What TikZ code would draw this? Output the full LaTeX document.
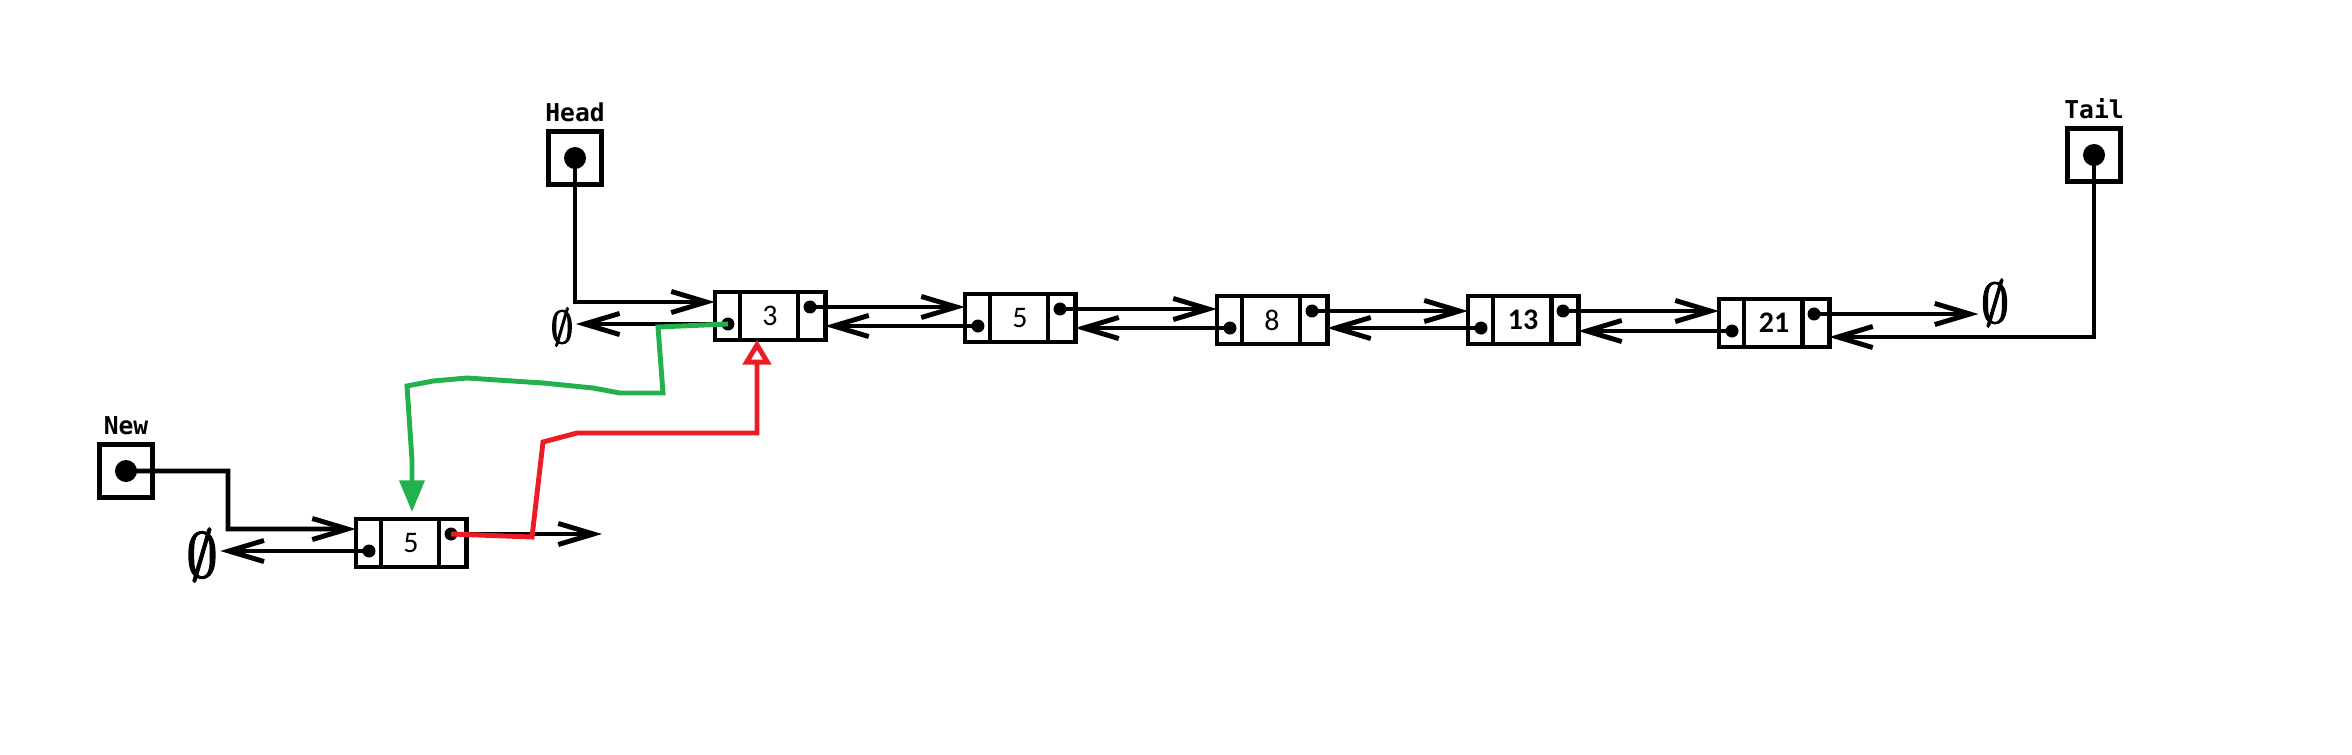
\documentclass[tikz,border=0pt]{standalone}
\usepackage{fontspec}
\usepackage{amssymb}
\usepackage{tikz}
\usetikzlibrary{arrows.meta,calc,positioning}
\newfontfamily\labelfont{DejaVu Sans Mono}
\newfontfamily\numfont{Carlito}
\newfontfamily\emptyfont[FakeBold=2.5]{Latin Modern Math}
\definecolor{paintgreen}{RGB}{34,177,76}
\definecolor{paintred}{RGB}{237,28,36}

\begin{document}
\begin{tikzpicture}[x=0.01cm, y=-0.01cm, line width=1.4pt,
	cell/.style={draw, minimum width=1.1cm, minimum height=0.48cm, inner sep=0pt, outer sep=0pt,
		font=\numfont\fontsize{8.5}{9}\selectfont,
		path picture={
			\draw[line width=1.4pt] ([xshift=0.25cm]path picture bounding box.north west) -- ([xshift=0.25cm]path picture bounding box.south west);
			\draw[line width=1.4pt] ([xshift=-0.27cm]path picture bounding box.north east) -- ([xshift=-0.27cm]path picture bounding box.south east);}},
	celldot/.style={circle, fill, inner sep=0pt, minimum size=0.13cm},
	ptr/.style={draw, minimum size=0.53cm, inner sep=0pt, outer sep=0pt},
	ptrdot/.style={circle, fill, inner sep=0pt, minimum size=0.22cm},
	lbl/.style={inner sep=0pt, font=\labelfont\bfseries\fontsize{7}{8}\selectfont},
	nullsym/.style={inner sep=0pt, font=\emptyfont\fontsize{16}{16}\selectfont},
	link/.style={-{Straight Barb[length=10pt,width=6pt]}},
	greenlink/.style={paintgreen, -{Triangle[length=9pt,width=7pt]}},
	redlink/.style={paintred, -{Triangle[open,length=7pt,width=8pt]}}]
	\useasboundingbox (0,0) rectangle (2352,754);

	% list nodes
	\foreach \name/\px/\py/\val in {n3/770/316/3, n5/1020/318/5, n8/1272/320/8, n13/1523/320/\textbf{13}, n21/1774/323/\textbf{21}, m5/411/543/5}{
		\node[cell] (\name) at (\px,\py) {\val};
		\node[celldot] (\name l) at ([xshift=0.13cm,yshift=-0.08cm]\name.west) {};
		\node[celldot] (\name r) at ([xshift=-0.15cm,yshift=0.09cm]\name.east) {};
	}

	% head, tail, new
	\node[ptr] (head) at (575,158) {};
	\node[ptrdot] (headd) at (head) {};
	\node[lbl, above=0.07cm of head] (headlbl) {Head};
	\node[ptr] (tail) at (2094,155) {};
	\node[ptrdot] (taild) at (tail) {};
	\node[lbl, above=0.07cm of tail] (taillbl) {Tail};
	\node[ptr] (new) at (126,471) {};
	\node[ptrdot] (newd) at (new) {};
	\node[lbl, above=0.07cm of new] (newlbl) {New};

	% nulls
	\node[nullsym, font=\emptyfont\fontsize{13}{13}\selectfont] (null1) at (562,327) {∅};
	\node[nullsym] (null2) at (1995,303) {∅};
	\node[nullsym, font=\emptyfont\fontsize{18}{18}\selectfont] (null3) at (202,555) {∅};

	% head and first node
	\draw[link] (headd.center) |- ([yshift=0.14cm]n3.west);
	\draw[link] (n3l.center) -- (null1.east |- n3l.center);

	% next / prev
	\draw[link] (n3r.center) -- (n5.west |- n3r.center);
	\draw[link] (n5l.center) -- (n3.east |- n5l.center);
	\draw[link] (n5r.center) -- (n8.west |- n5r.center);
	\draw[link] (n8l.center) -- (n5.east |- n8l.center);
	\draw[link] (n8r.center) -- (n13.west |- n8r.center);
	\draw[link] (n13l.center) -- (n8.east |- n13l.center);
	\draw[link] (n13r.center) -- (n21.west |- n13r.center);
	\draw[link] (n21l.center) -- (n13.east |- n21l.center);
	\draw[link] (n21r.center) -- (null2.west |- n21r.center);

	% tail
	\draw[link] (taild.center) |- ([yshift=-0.14cm]n21.east);

	% new node
	\coordinate (newbend) at (228,529);
	\coordinate (mout) at (602,534);
	\draw[link] (newd.center) -| (newbend) -- ([yshift=0.14cm]m5.west);
	\draw[link] (m5l.center) -- (null3.east |- m5l.center);
	\draw[link] (m5r.center) -- (mout |- m5r.center);

	% red: new.next = head
	\coordinate (redturn) at (757,433);
	\draw[redlink] (m5r.center) -- (532,537) -- (543,442) -- (577,433) -- (redturn) -- (redturn |- n3.south);

	% green: head.prev = new
	\coordinate (greenturn) at (412,460);
	\draw[greenlink, shorten >=0.07cm] (n3l.center) -- (658,327) -- (663,393) -- (620,393) -- (593,388) -- (543,383) -- (467,378) -- (433,381) -- (407,386) -- (greenturn) -- (greenturn |- m5.north);
\end{tikzpicture}
\end{document}
